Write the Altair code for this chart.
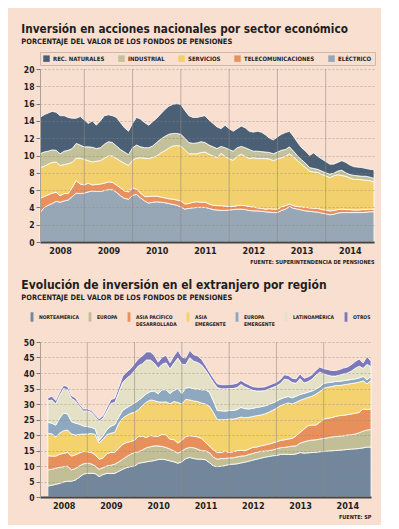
import altair as alt
import pandas as pd

FONT = "DejaVu Sans Condensed, Lato, sans-serif"
BG = "#f9dfd0"
INK = "#1e1e1e"

# ---------------- top chart: month 0 = Jan 2008 ... 83 = Dec 2014 ----------------
top_sectors = ["REC. NATURALES", "INDUSTRIAL", "SERVICIOS", "TELECOMUNICACIONES", "ELÉCTRICO"]
top_colors = ["#4b6075", "#c3c199", "#f3d06e", "#e8915f", "#97a7b6"]

# upper edge of each band (cumulative)
edge_electrico = [3.4, 3.95, 4.25, 4.45, 4.7, 4.6, 4.75, 4.85, 5.25, 5.65, 5.6, 5.65,
                  5.8, 5.9, 5.85, 5.85, 5.95, 6.05, 6.05, 5.75, 5.35, 5.05, 4.95, 5.4,
                  5.5, 5.1, 4.75, 4.5, 4.6, 4.65, 4.6, 4.55, 4.45, 4.35, 4.25, 4.05,
                  3.8, 3.9, 3.95, 4.0, 4.0, 4.0, 3.9, 3.75, 3.7, 3.65, 3.65, 3.7,
                  3.75, 3.8, 3.8, 3.75, 3.65, 3.6, 3.6, 3.55, 3.5, 3.45, 3.4, 3.4,
                  3.65, 3.8, 4.1, 3.9, 3.8, 3.7, 3.6, 3.55, 3.5, 3.45, 3.35, 3.25,
                  3.15, 3.2, 3.35, 3.4, 3.4, 3.4, 3.4, 3.4, 3.4, 3.45, 3.5, 3.5]
edge_telecom = [5.05, 5.25, 5.45, 5.65, 5.75, 5.35, 5.6, 5.6, 6.3, 7.1, 6.7, 6.6,
                6.8, 6.6, 6.65, 6.7, 6.8, 6.95, 6.9, 6.6, 6.25, 5.9, 5.8, 6.25,
                6.1, 5.65, 5.25, 5.25, 5.3, 5.3, 5.2, 5.1, 5.0, 4.95, 4.85, 4.75,
                4.4, 4.45, 4.6, 4.65, 4.6, 4.6, 4.4, 4.25, 4.2, 4.2, 4.15, 4.1,
                4.1, 4.2, 4.25, 4.2, 4.1, 4.05, 3.95, 3.9, 3.8, 3.85, 3.8, 3.8,
                4.05, 4.2, 4.4, 4.2, 4.1, 4.05, 4.0, 3.95, 3.9, 3.9, 3.75, 3.7,
                3.6, 3.65, 3.75, 3.8, 3.75, 3.75, 3.7, 3.7, 3.75, 3.75, 3.8, 3.8]
edge_servicios = [8.6, 8.75, 9.0, 9.2, 9.25, 8.85, 8.95, 9.05, 9.2, 9.7, 9.7, 9.55,
                  9.4, 9.25, 9.35, 9.4, 9.7, 9.95, 9.95, 9.65, 9.35, 9.1, 8.85, 9.45,
                  9.7, 9.75, 9.7, 9.65, 9.8, 9.95, 10.3, 10.55, 10.85, 11.1, 11.15, 11.1,
                  10.65, 10.2, 10.2, 10.2, 10.35, 10.4, 10.15, 9.95, 9.75, 10.25, 9.9, 9.6,
                  9.45, 9.9, 10.15, 9.9, 9.65, 9.75, 9.65, 9.65, 9.65, 9.6, 9.4, 9.6,
                  9.75, 9.9, 10.2, 9.85, 9.4, 9.0, 8.6, 8.2, 8.1, 8.05, 7.85, 7.65,
                  7.45, 7.65, 7.8, 7.7, 7.6, 7.4, 7.25, 7.25, 7.2, 7.15, 7.1, 6.95]
edge_industrial = [10.2, 10.4, 10.5, 10.65, 10.6, 10.2, 10.5, 10.6, 10.8, 11.4, 11.2, 11.0,
                   11.0, 10.95, 10.8, 10.9, 11.3, 11.6, 11.5, 11.1, 10.7, 10.4, 10.1, 10.9,
                   11.2, 11.0, 10.9, 10.9, 11.1, 11.5, 11.9, 12.2, 12.45, 12.55, 12.55, 12.45,
                   12.0, 11.5, 11.4, 11.45, 11.6, 11.5, 11.2, 11.0, 10.8, 11.05, 10.9, 10.7,
                   10.5, 10.9, 11.05, 10.9, 10.7, 10.5, 10.5, 10.45, 10.4, 10.35, 10.2, 10.4,
                   10.6, 10.7, 11.0, 10.5, 9.95, 9.5, 9.1, 8.6, 8.5, 8.4, 8.2, 8.0,
                   7.85, 7.95, 8.2, 8.3, 8.0, 7.8, 7.7, 7.65, 7.6, 7.6, 7.5, 7.35]
edge_rec_naturales = [14.4, 14.7, 14.9, 15.1, 15.0, 14.6, 14.6, 14.4, 14.3, 14.3, 14.5, 14.1,
                      13.7, 14.0, 13.5, 14.0, 14.6, 14.7, 14.6, 14.4, 13.8, 13.2, 12.8, 13.7,
                      14.4, 14.2, 13.8, 13.5, 13.9, 14.3, 14.8, 15.3, 15.7, 15.9, 16.0, 15.9,
                      15.2, 14.6, 14.4, 14.4, 14.5, 14.6, 14.1, 13.7, 13.3, 13.1, 13.5, 13.1,
                      12.8, 13.1, 13.4, 13.2, 12.8, 12.7, 12.8, 12.7, 12.4, 12.0, 11.8, 12.15,
                      12.45, 12.65, 12.8, 12.2, 11.5, 10.9, 10.5, 10.0, 10.3, 9.9, 9.6, 9.3,
                      9.0, 9.0, 9.2, 9.4, 9.2, 8.9, 8.7, 8.65, 8.6, 8.5, 8.4, 8.35]

# ---------------- bottom chart: month 1 = Feb 2008 ... 83 = Dec 2014 ----------------
bot_regions = ["NORTEAMÉRICA", "EUROPA", "ASIA PACÍFICO DESARROLLADA", "ASIA EMERGENTE",
               "EUROPA EMERGENTE", "LATINOAMÉRICA", "OTROS"]
bot_colors = ["#72879b", "#c2bf96", "#e8905c", "#f4d26e", "#8ea8bf", "#e4e1c6", "#7d78b8"]

edge_norteamerica = [3.55, 3.8, 4.1, 4.4, 4.85, 5.1, 5.1, 5.5, 6.4, 7.35,
                     7.65, 7.65, 7.55, 6.6, 7.25, 7.65, 7.55, 7.65, 8.3, 8.95,
                     9.5, 9.8, 9.95, 10.9, 11.1, 11.35, 11.55, 11.75, 12.1, 12.2,
                     12.0, 11.65, 11.35, 10.9, 11.35, 12.4, 12.75, 12.4, 12.2, 12.2,
                     12.0, 11.1, 10.05, 9.8, 9.95, 10.15, 10.5, 10.6, 10.7, 11.0,
                     11.25, 11.55, 11.9, 12.2, 12.5, 12.85, 13.05, 13.3, 13.4, 13.7,
                     13.8, 13.7, 13.7, 13.9, 14.35, 14.15, 14.25, 14.35, 14.45, 14.6,
                     14.7, 14.8, 14.9, 15.0, 15.1, 15.2, 15.35, 15.45, 15.55, 15.65,
                     15.85, 16.1, 16.1]
edge_europa = [8.75, 8.95, 9.3, 9.6, 9.8, 9.95, 8.75, 9.2, 10.05, 10.7,
               10.9, 10.7, 10.05, 8.95, 9.5, 10.05, 10.25, 10.6, 11.35, 12.2,
               13.05, 13.8, 14.35, 14.6, 15.2, 15.9, 16.2, 16.5, 16.5, 16.3,
               16.0, 15.45, 14.8, 14.15, 14.8, 15.65, 16.0, 15.9, 15.45, 14.9,
               14.9, 14.3, 12.85, 12.2, 12.4, 12.4, 12.65, 12.65, 12.95, 13.2,
               13.3, 13.7, 14.05, 14.45, 14.7, 14.8, 14.9, 15.2, 15.55, 15.9,
               16.0, 16.2, 16.4, 16.5, 17.4, 17.8, 18.15, 18.35, 18.45, 18.7,
               18.9, 19.1, 19.35, 19.55, 19.65, 19.75, 20.0, 20.1, 20.3, 20.75,
               21.25, 21.6, 21.8]
edge_asia_pac = [13.3, 13.2, 13.2, 13.8, 14.1, 14.4, 13.2, 13.6, 14.2, 14.7,
                 14.6, 14.4, 13.6, 12.2, 12.6, 14.0, 14.4, 14.4, 15.7, 17.0,
                 17.6, 17.9, 18.3, 19.6, 19.6, 19.2, 19.9, 19.6, 19.6, 20.2,
                 20.0, 18.6, 18.5, 17.4, 18.3, 19.5, 19.8, 19.6, 19.4, 18.9,
                 17.6, 16.5, 15.2, 14.35, 14.35, 14.8, 14.35, 14.6, 14.9, 15.1,
                 14.9, 15.45, 16.0, 16.1, 16.5, 16.75, 17.05, 17.4, 17.8, 18.25,
                 18.45, 18.7, 18.9, 19.75, 20.85, 21.9, 23.0, 23.2, 23.2, 24.1,
                 25.15, 25.4, 25.6, 26.0, 26.25, 26.35, 26.55, 26.8, 27.0, 27.3,
                 28.4, 28.2, 28.4]
edge_asia_em = [20.5, 20.4, 19.4, 20.6, 21.4, 21.6, 20.3, 20.0, 20.2, 20.3,
                20.3, 20.5, 20.2, 17.4, 18.6, 20.2, 20.6, 20.9, 23.8, 25.5,
                26.3, 27.0, 27.3, 28.2, 29.5, 30.6, 31.3, 31.1, 30.7, 30.6,
                30.7, 30.1, 30.8, 30.5, 30.0, 31.5, 31.3, 31.0, 30.8, 30.3,
                30.0, 29.25, 27.3, 24.95, 24.95, 24.95, 25.15, 25.15, 25.4, 25.8,
                25.6, 25.7, 26.0, 26.25, 26.45, 26.8, 27.3, 27.95, 28.6, 29.5,
                29.9, 30.35, 30.0, 30.55, 31.2, 31.65, 32.1, 32.5, 33.15, 34.0,
                35.1, 35.4, 35.65, 35.95, 35.95, 36.2, 36.4, 36.6, 36.8, 37.05,
                37.5, 36.5, 37.6]
edge_europa_em = [24.1, 23.8, 23.2, 25.5, 27.1, 26.8, 24.3, 23.8, 23.5, 22.9,
                  22.7, 22.5, 22.0, 18.2, 19.8, 21.8, 22.8, 23.4, 25.8, 28.0,
                  28.8, 29.6, 30.3, 31.2, 32.2, 33.3, 34.0, 34.2, 33.3, 34.6,
                  34.6, 33.4, 34.4, 34.9, 33.4, 35.2, 35.3, 34.9, 34.8, 34.6,
                  34.6, 33.8, 31.0, 27.9, 27.8, 27.7, 27.9, 27.9, 28.2, 28.9,
                  28.5, 28.4, 28.6, 28.9, 29.1, 29.4, 29.8, 30.3, 30.9, 31.6,
                  32.1, 32.4, 32.0, 32.5, 33.1, 33.4, 33.8, 34.2, 34.8, 35.6,
                  36.6, 36.9, 37.0, 37.3, 37.3, 37.5, 37.7, 37.9, 38.1, 38.4,
                  38.9, 37.8, 38.9]
edge_latam = [31.0, 31.3, 30.0, 32.8, 35.0, 34.6, 31.8, 31.0, 29.3, 27.7,
              27.8, 27.3, 25.9, 24.5, 25.4, 27.8, 30.2, 30.5, 33.8, 37.0,
              38.3, 39.3, 40.8, 42.3, 43.0, 44.2, 44.2, 43.2, 41.5, 42.8,
              43.3, 41.3, 43.2, 44.8, 42.8, 42.7, 45.0, 43.8, 43.4, 42.6,
              41.0, 39.0, 37.0, 35.3, 34.9, 34.9, 35.0, 35.0, 35.3, 36.3,
              35.5, 35.0, 34.4, 34.2, 34.2, 34.3, 34.8, 35.3, 35.8, 36.6,
              38.0, 37.8, 36.9, 36.7, 38.2, 36.8, 37.2, 38.0, 39.3, 40.3,
              39.7, 39.3, 39.0, 39.0, 39.3, 39.7, 40.0, 40.6, 41.5, 42.2,
              41.5, 42.8, 42.0]
edge_otros = [32.0, 32.5, 31.1, 33.8, 36.0, 35.6, 32.7, 31.9, 30.0, 28.4,
              28.4, 27.9, 26.5, 25.2, 26.2, 28.9, 31.4, 31.9, 35.4, 39.0,
              40.3, 41.4, 43.0, 44.6, 45.5, 46.8, 46.8, 45.7, 43.5, 45.1,
              45.7, 43.3, 45.5, 47.3, 45.1, 44.8, 47.3, 45.9, 45.5, 44.4,
              42.4, 40.3, 38.3, 36.5, 36.2, 36.2, 36.3, 36.4, 36.7, 37.6,
              36.8, 36.2, 35.6, 35.4, 35.4, 35.5, 36.0, 36.5, 37.0, 37.9,
              39.4, 39.2, 38.3, 38.1, 39.7, 38.3, 38.7, 39.4, 40.8, 41.9,
              41.4, 41.1, 40.8, 40.8, 41.1, 41.6, 41.9, 42.7, 43.7, 44.5,
              43.2, 45.3, 43.8]

year_labels = [2008, 2009, 2010, 2011, 2012, 2013, 2014]
year_lines = [2009, 2010, 2011, 2012, 2013, 2014]


def stacked_table(edges, names_bottom_up, first_month):
    rows = []
    for k, (name, edge) in enumerate(zip(names_bottom_up, edges)):
        below = edges[k - 1] if k > 0 else [0.0] * len(edge)
        for i, top in enumerate(edge):
            m = first_month + i
            rows.append({"t": 2008 + (m + 1) / 12.0, "serie": name,
                         "v": round(top - below[i], 4), "ord": k})
    return pd.DataFrame(rows)


top_df = stacked_table(
    [edge_electrico, edge_telecom, edge_servicios, edge_industrial, edge_rec_naturales],
    ["ELÉCTRICO", "TELECOMUNICACIONES", "SERVICIOS", "INDUSTRIAL", "REC. NATURALES"], 0)
bot_df = stacked_table(
    [edge_norteamerica, edge_europa, edge_asia_pac, edge_asia_em, edge_europa_em,
     edge_latam, edge_otros], bot_regions, 1)


def x_enc(domain, source):
    return alt.X("t:Q", scale=alt.Scale(domain=domain, nice=False, zero=False),
                 axis=alt.Axis(values=[y + 0.5 for y in year_labels],
                               labelExpr="floor(datum.value)", ticks=False, grid=False,
                               domainColor="#454545", domainWidth=2, labelOverlap=False,
                               labelFont=FONT, labelFontSize=9, labelFontWeight="bold",
                               labelColor=INK, labelPadding=4, title=source,
                               titleAnchor="end", titleFont=FONT, titleFontSize=5.5,
                               titleFontWeight="bold", titleColor=INK, titlePadding=4,
                               zindex=1))


def y_enc(top, step):
    return alt.Y("v:Q", stack="zero", scale=alt.Scale(domain=[0, top], nice=False),
                 axis=alt.Axis(values=list(range(0, top + 1, step)), grid=True,
                               gridDash=[2, 2], gridColor="#8c847d", gridOpacity=0.55,
                               gridWidth=0.8, domainColor="#aaa199", tickColor="#777",
                               tickSize=4, labelFont=FONT, labelFontSize=8.5,
                               labelFontWeight="bold", labelColor=INK, labelPadding=2,
                               title=None, zindex=1))


def rules(domain):
    return alt.Chart(pd.DataFrame({"t": year_lines})).mark_rule(
        color="#8f8780", strokeWidth=1, opacity=0.55).encode(
        x=alt.X("t:Q", scale=alt.Scale(domain=domain, nice=False, zero=False)))


top_domain = [2008 + 1 / 12.0, 2015]
top_area = alt.Chart(top_df).mark_area(stroke="white", strokeWidth=0.8, opacity=1).encode(
    x=x_enc(top_domain, "FUENTE: SUPERINTENDENCIA DE PENSIONES"),
    y=y_enc(20, 2),
    color=alt.Color("serie:N", scale=alt.Scale(domain=top_sectors, range=top_colors),
                    legend=alt.Legend(title=None, orient="none", legendX=0, legendY=-17,
                                      direction="horizontal", symbolType="square",
                                      symbolSize=42, symbolStrokeWidth=0, symbolOpacity=1,
                                      labelFont=FONT, labelFontSize=6,
                                      labelFontWeight="bold", labelColor=INK,
                                      labelOffset=3, labelLimit=0, columnPadding=13,
                                      padding=3, strokeColor="#cdb9aa")),
    order=alt.Order("ord:Q", sort="ascending"),
)
top_chart = alt.layer(top_area, rules(top_domain)).properties(
    width=334, height=173,
    title=alt.TitleParams(
        text="Inversión en acciones nacionales por sector económico",
        subtitle="PORCENTAJE DEL VALOR DE LOS FONDOS DE PENSIONES",
        anchor="start", frame="bounds", dx=-2, offset=6,
        font=FONT, fontSize=11.7, fontWeight="bold", color=INK,
        subtitleFont=FONT, subtitleFontSize=7.4, subtitleFontWeight="bold",
        subtitleColor=INK, subtitlePadding=2))

label_expr = ("datum.label == 'ASIA PACÍFICO DESARROLLADA' ? ['ASIA PACÍFICO', 'DESARROLLADA'] : "
              "datum.label == 'ASIA EMERGENTE' ? ['ASIA', 'EMERGENTE'] : "
              "datum.label == 'EUROPA EMERGENTE' ? ['EUROPA', 'EMERGENTE'] : [datum.label, '']")

bot_domain = [2008, 2015]
bot_area = alt.Chart(bot_df).mark_area(stroke="white", strokeWidth=0.8, opacity=1).encode(
    x=x_enc(bot_domain, "FUENTE: SP"),
    y=y_enc(50, 5),
    color=alt.Color("serie:N", scale=alt.Scale(domain=bot_regions, range=bot_colors),
                    legend=alt.Legend(title=None, orient="none", legendX=-13, legendY=-30,
                                      direction="horizontal",
                                      symbolType="M-0.3,-1H0.3V1H-0.3Z",
                                      symbolSize=90, symbolStrokeWidth=0, symbolOpacity=1,
                                      labelFont=FONT, labelFontSize=5,
                                      labelFontWeight="bold", labelColor=INK,
                                      labelOffset=2, labelLimit=0, columnPadding=6,
                                      labelExpr=label_expr)),
    order=alt.Order("ord:Q", sort="ascending"),
)
bot_chart = alt.layer(bot_area, rules(bot_domain)).properties(
    width=331, height=155,
    title=alt.TitleParams(
        text="Evolución de inversión en el extranjero por región",
        subtitle="PORCENTAJE DEL VALOR DE LOS FONDOS DE PENSIONES",
        anchor="start", frame="bounds", dx=-2, offset=10,
        font=FONT, fontSize=12, fontWeight="bold", color=INK,
        subtitleFont=FONT, subtitleFontSize=7.4, subtitleFontWeight="bold",
        subtitleColor=INK, subtitlePadding=2))

chart = alt.vconcat(top_chart, bot_chart, spacing=100, bounds="flush").resolve_scale(
    color="independent", x="independent", y="independent"
).resolve_legend(color="independent").configure(
    background=BG, padding={"left": 13, "top": 16, "right": 5, "bottom": 5}
).configure_view(stroke=None)

chart.save("out.html", embed_options={"renderer": "svg", "actions": False})
